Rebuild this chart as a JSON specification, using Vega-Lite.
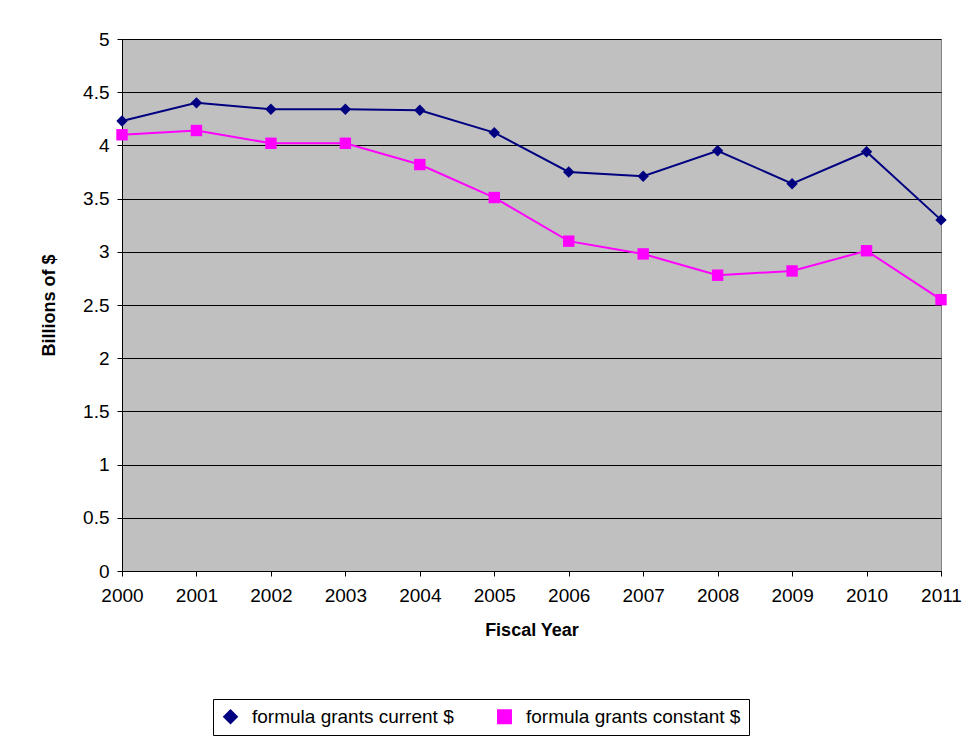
{
  "$schema": "https://vega.github.io/schema/vega-lite/v6.json",
  "width": 819,
  "height": 532,
  "autosize": "none",
  "padding": {"left": 122, "top": 39, "right": 31, "bottom": 169},
  "background": "white",
  "config": {
    "view": {"fill": "#C0C0C0", "stroke": "#808080"}
  },
  "data": {"values": [
    {"year": 2000, "series": "formula grants current $", "v": 4.23},
    {"year": 2001, "series": "formula grants current $", "v": 4.40},
    {"year": 2002, "series": "formula grants current $", "v": 4.34},
    {"year": 2003, "series": "formula grants current $", "v": 4.34},
    {"year": 2004, "series": "formula grants current $", "v": 4.33},
    {"year": 2005, "series": "formula grants current $", "v": 4.12},
    {"year": 2006, "series": "formula grants current $", "v": 3.75},
    {"year": 2007, "series": "formula grants current $", "v": 3.71},
    {"year": 2008, "series": "formula grants current $", "v": 3.95},
    {"year": 2009, "series": "formula grants current $", "v": 3.64},
    {"year": 2010, "series": "formula grants current $", "v": 3.94},
    {"year": 2011, "series": "formula grants current $", "v": 3.30},
    {"year": 2000, "series": "formula grants constant $", "v": 4.10},
    {"year": 2001, "series": "formula grants constant $", "v": 4.14},
    {"year": 2002, "series": "formula grants constant $", "v": 4.02},
    {"year": 2003, "series": "formula grants constant $", "v": 4.02},
    {"year": 2004, "series": "formula grants constant $", "v": 3.82},
    {"year": 2005, "series": "formula grants constant $", "v": 3.51},
    {"year": 2006, "series": "formula grants constant $", "v": 3.10},
    {"year": 2007, "series": "formula grants constant $", "v": 2.98},
    {"year": 2008, "series": "formula grants constant $", "v": 2.78},
    {"year": 2009, "series": "formula grants constant $", "v": 2.82},
    {"year": 2010, "series": "formula grants constant $", "v": 3.01},
    {"year": 2011, "series": "formula grants constant $", "v": 2.55}
  ]},
  "mark": {"type": "line", "strokeWidth": 2, "point": {"filled": true, "size": 130, "opacity": 1}},
  "encoding": {
    "x": {"field": "year", "type": "quantitative", "scale": {"domain": [2000, 2011], "nice": false}, "title": "Fiscal Year",
      "axis": {"format": "d", "tickCount": 12, "grid": false, "labelPadding": 10, "titlePadding": 16, "labelFlush": false,
        "labelFont": "Liberation Sans", "titleFont": "Liberation Sans", "labelFontSize": 19, "titleFontSize": 18,
        "labelColor": "black", "titleColor": "black", "domainColor": "black", "tickColor": "black"}},
    "y": {"field": "v", "type": "quantitative", "scale": {"domain": [0, 5]}, "title": "Billions of $",
      "axis": {"values": [0, 0.5, 1, 1.5, 2, 2.5, 3, 3.5, 4, 4.5, 5], "format": "~g", "gridColor": "black", "gridOpacity": 1,
        "labelPadding": 8, "titlePadding": 24,
        "labelFont": "Liberation Sans", "titleFont": "Liberation Sans", "labelFontSize": 19, "titleFontSize": 18,
        "labelColor": "black", "titleColor": "black", "domainColor": "black", "tickColor": "black"}},
    "color": {"field": "series", "type": "nominal",
      "scale": {"domain": ["formula grants current $", "formula grants constant $"], "range": ["#000080", "#FF00FF"]},
      "legend": {"orient": "none", "legendX": 91, "legendY": 660, "direction": "horizontal", "title": null,
        "strokeColor": "black", "padding": 8, "labelFontSize": 19, "labelFont": "Liberation Sans", "labelColor": "black",
        "labelLimit": 400, "symbolSize": 180, "columnPadding": 40, "labelOffset": 12}},
    "shape": {"field": "series", "type": "nominal",
      "scale": {"domain": ["formula grants current $", "formula grants constant $"], "range": ["diamond", "square"]},
      "legend": {"orient": "none", "legendX": 91, "legendY": 660, "direction": "horizontal", "title": null,
        "strokeColor": "black", "padding": 8, "labelFontSize": 19, "labelFont": "Liberation Sans", "labelColor": "black",
        "labelLimit": 400, "symbolSize": 180, "columnPadding": 40, "labelOffset": 12}}
  }
}
